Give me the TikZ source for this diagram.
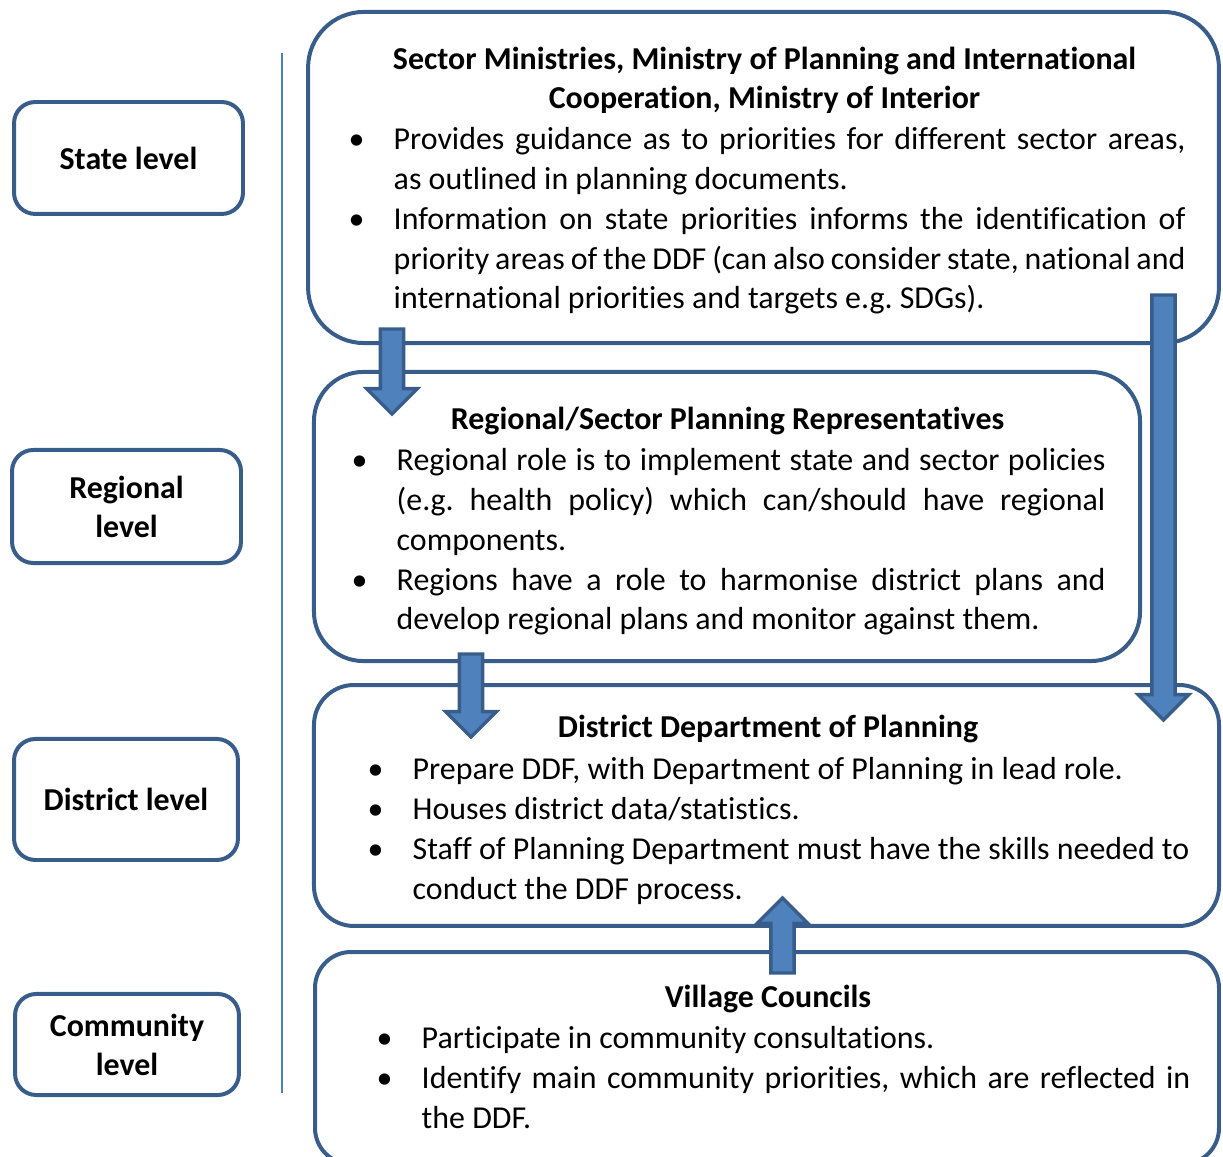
\documentclass[tikz,border=0pt]{standalone}
\usepackage{fontspec}
\setmainfont[Ligatures=NoCommon]{Carlito}
\usepackage{enumitem}
\usetikzlibrary{calc}

\definecolor{boxblue}{HTML}{385D8A}
\definecolor{fillblue}{HTML}{4F81BD}

\setlist[itemize]{label=\textbullet, leftmargin=17pt, labelwidth=6pt, labelsep=11pt,
  align=left, itemindent=0pt, topsep=0pt, itemsep=0pt, parsep=0pt, partopsep=0pt}
\frenchspacing

\tikzset{
  levelbox/.style={draw=boxblue, line width=1.5pt, rounded corners=8pt, align=center,
    font=\fontsize{12pt}{14.7pt}\selectfont\bfseries},
  mainbox/.style={draw=boxblue, line width=1.5pt},
  boxtitle/.style={anchor=base, inner sep=0pt, align=center,
    font=\fontsize{12pt}{14.7pt}\selectfont\bfseries},
  boxtext/.style={anchor=north west, inner sep=0pt, align=justify,
    font=\fontsize{12pt}{15pt}\selectfont},
  blockarrow/.style={fill=fillblue, draw=boxblue, line width=1.3pt, line join=miter}
}

% block arrow from tail (#1) to tip (#2), vertical only
\newcommand{\blockarrow}[2]{%
  \draw[blockarrow] let \p1=(#1), \p2=(#2), \n1={sign(\y1-\y2)} in
    (\x1-4.4pt,\y1) -- (\x1-4.4pt,\y2+\n1*9.5pt) -- (\x1-9.5pt,\y2+\n1*9.5pt)
    -- (\x2,\y2) -- (\x1+9.5pt,\y2+\n1*9.5pt) -- (\x1+4.4pt,\y2+\n1*9.5pt)
    -- (\x1+4.4pt,\y1) -- cycle;}

\begin{document}
\begin{tikzpicture}[x=0.376pt, y=-0.376pt]
  \clip (0,0) rectangle (1223,1157);

  % levels on the left
  \node[levelbox, minimum width=86.1pt, minimum height=42.1pt] (state) at (128.5,158) {State level};
  \node[levelbox, minimum width=86.1pt, minimum height=42.5pt] (regional) at (126.5,506.5) {Regional\\level};
  \node[levelbox, minimum width=84.2pt, minimum height=45.5pt] (district) at (126,799.5) {District level};
  \node[levelbox, minimum width=84.2pt, minimum height=38pt] (community) at (127,1044.5) {Community\\level};

  \coordinate (ltop) at (282,53);
  \coordinate (lbot) at (282,1093);
  \draw[fillblue, line width=1.1pt] (ltop) -- (lbot);

  % main boxes
  \node[mainbox, rounded corners=21pt, minimum width=342.5pt, minimum height=124.5pt] (sectorbox) at (763.5,177.5) {};
  \node[mainbox, rounded corners=18.5pt, minimum width=310.6pt, minimum height=108.7pt] (regionbox) at (727,516.5) {};
  \node[mainbox, rounded corners=15pt, minimum width=340.3pt, minimum height=90.6pt] (districtbox) at (766.5,805.5) {};
  \node[mainbox, rounded corners=13.5pt, minimum width=339.9pt, minimum height=79.7pt] (villagebox) at (767,1058) {};

  % state level
  \node[boxtitle] (sectortitle) at (764.5,109) {Sector Ministries, Ministry of Planning and International\\Cooperation, Ministry of Interior};
  \node[boxtext, text width=314.7pt] (sectortext) at (348,109) {%
    \begin{itemize}
      \item Provides guidance as to priorities for different sector areas,\linebreak as outlined in planning documents.
      \item Information on state priorities informs the identification of\linebreak priority areas of the DDF (can also consider state, national and\linebreak international priorities and targets e.g. SDGs).
    \end{itemize}};

  % regional level
  \node[boxtitle] (regiontitle) at (727.5,430) {Regional/Sector Planning Representatives};
  \node[boxtext, text width=283.5pt] (regiontext) at (351,430) {%
    \begin{itemize}
      \item Regional role is to implement state and sector policies\linebreak (e.g. health policy) which can/should have regional\linebreak components.
      \item Regions have a role to harmonise district plans and\linebreak develop regional plans and monitor against them.
    \end{itemize}};

  % district level
  \node[boxtitle] (districttitle) at (768,738) {District Department of Planning};
  \node[boxtext, text width=309pt] (districttext) at (367,739) {%
    \begin{itemize}
      \item Prepare DDF, with Department of Planning in lead role.
      \item Houses district data/statistics.
      \item Staff of Planning Department must have the skills needed to\linebreak conduct the DDF process.
    \end{itemize}};

  % community level
  \node[boxtitle] (villagetitle) at (768,1008) {Village Councils};
  \node[boxtext, text width=306pt] (villagetext) at (376,1008) {%
    \begin{itemize}
      \item Participate in community consultations.
      \item Identify main community priorities, which are reflected in\linebreak the DDF.
    \end{itemize}};

  % block arrows
  \coordinate (a1s) at (392,329);
  \coordinate (a1e) at (392,414);
  \coordinate (a2s) at (1163.5,295);
  \coordinate (a2e) at (1163.5,720);
  \coordinate (a3s) at (471,654);
  \coordinate (a3e) at (471,737);
  \coordinate (a4s) at (782.5,973);
  \coordinate (a4e) at (782.5,898);
  \blockarrow{a1s}{a1e}
  \blockarrow{a2s}{a2e}
  \blockarrow{a3s}{a3e}
  \blockarrow{a4s}{a4e}
\end{tikzpicture}
\end{document}
